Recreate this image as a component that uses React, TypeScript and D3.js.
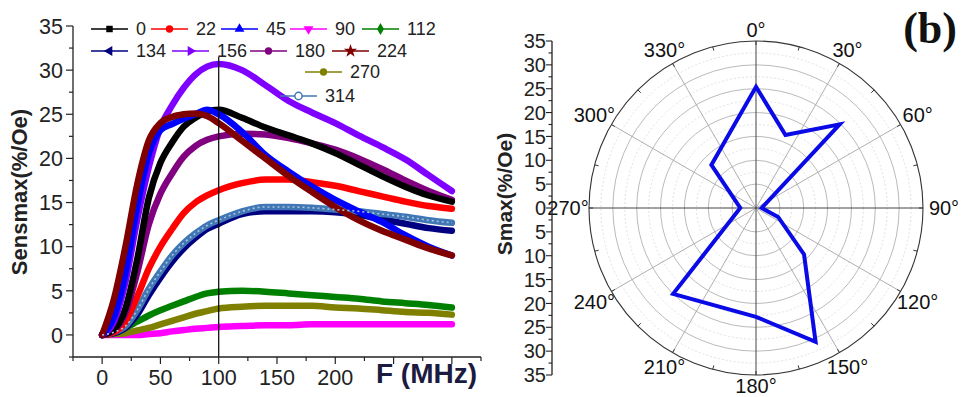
import React from "react";
import * as d3 from "d3";

// frequency grid (MHz) and Sensmax (%/Oe)
const freqMHz = [0, 10, 20, 30, 40, 50, 60, 70, 80, 90, 100, 120, 140, 160, 180, 200, 220, 240, 260, 280, 300];

const sens0 = [0, 0.6, 3, 8.5, 15.5, 19.5, 21.8, 23.6, 24.6, 25.3, 25.5, 24.6, 23.5, 22.6, 21.7, 20.6, 19.3, 18, 16.8, 15.8, 15.1];
const sens22 = [0, 0.3, 1.5, 4.3, 7.5, 10, 12, 13.8, 15, 15.8, 16.4, 17.2, 17.6, 17.6, 17.3, 16.9, 16.3, 15.7, 15.1, 14.6, 14.3];
const sens45 = [0, 2, 7, 14.5, 20.5, 23.2, 23.9, 24.5, 25, 25.5, 25, 23, 20.4, 18.5, 16.8, 15.3, 14, 12.8, 11.3, 10, 9];
const sens90 = [0, 0, 0, 0, 0.1, 0.2, 0.4, 0.55, 0.7, 0.8, 0.9, 1, 1.1, 1.1, 1.2, 1.2, 1.2, 1.2, 1.2, 1.2, 1.2];
const sens112 = [0, 0.2, 0.8, 1.5, 2.2, 2.8, 3.3, 3.8, 4.3, 4.7, 4.9, 5, 4.9, 4.7, 4.5, 4.3, 4.1, 3.8, 3.6, 3.4, 3.1];
const sens134 = [0, 0.2, 0.8, 2.3, 4.5, 6.5, 8.3, 9.8, 11, 12, 12.6, 13.7, 14, 14, 14, 13.9, 13.6, 13.1, 12.6, 12.1, 11.8];
const sens156 = [0, 1.5, 6, 13, 19, 23.5, 26, 28, 29.5, 30.4, 30.7, 30, 28.3, 26.5, 25.2, 24, 22.6, 21.3, 19.9, 18.1, 16.3];
const sens180 = [0, 0.5, 2.5, 7, 12.5, 16, 18.3, 20.2, 21.4, 22.1, 22.5, 22.8, 22.7, 22.3, 21.7, 21, 20, 18.8, 17.5, 16.3, 15.3];
const sens224 = [0, 4, 10, 17, 22, 24, 24.7, 25, 25.1, 24.8, 24, 22, 20, 18, 16.2, 14.5, 13, 11.8, 10.8, 9.8, 9];
const sens270 = [0, 0.1, 0.2, 0.5, 0.8, 1.2, 1.6, 2, 2.4, 2.7, 3, 3.2, 3.3, 3.3, 3.3, 3.1, 3, 2.8, 2.6, 2.5, 2.3];
const sens314 = [0, 0.3, 1, 2.8, 5.2, 7.2, 9, 10.4, 11.5, 12.4, 13, 14, 14.5, 14.5, 14.4, 14.2, 14, 13.7, 13.4, 13, 12.7];

const yTickLabels = ["0", "5", "10", "15", "20", "25", "30", "35"];
const xTickLabels = ["0", "50", "100", "150", "200"];
const markerFreq = 100; // vertical guide line
const markerTop = 31.5;

// panel (b): Smax vs field angle
const polarAngles = [0, 22, 45, 90, 112, 134, 156, 180, 224, 270, 314];
const smaxValues = [25.4, 16.5, 24.8, 1.2, 5, 14, 30.7, 22.8, 25, 3.3, 13];
const angleLabels = ["0°", "30°", "60°", "90°", "120°", "150°", "180°", "210°", "240°", "270°", "300°", "330°"];

type Series = { name: string; values: number[]; color: string; sym: string; rot: number; open?: boolean; lx: number; ly: number };

const series: Series[] = [
  { name: "90", values: sens90, color: "#ff00ff", sym: "tri", rot: 180, lx: 290, ly: 29 },
  { name: "270", values: sens270, color: "#808000", sym: "circle", rot: 0, lx: 305, ly: 72 },
  { name: "112", values: sens112, color: "#008000", sym: "diamond", rot: 0, lx: 362, ly: 29 },
  { name: "134", values: sens134, color: "#000080", sym: "tri", rot: -90, lx: 91, ly: 51 },
  { name: "314", values: sens314, color: "#4077b4", sym: "circle", rot: 0, open: true, lx: 280, ly: 96 },
  { name: "22", values: sens22, color: "#ff0000", sym: "circle", rot: 0, lx: 151, ly: 29 },
  { name: "180", values: sens180, color: "#800080", sym: "circle", rot: 0, lx: 250, ly: 51 },
  { name: "0", values: sens0, color: "#000000", sym: "square", rot: 0, lx: 91, ly: 29 },
  { name: "156", values: sens156, color: "#8000ff", sym: "tri", rot: 90, lx: 172, ly: 51 },
  { name: "45", values: sens45, color: "#0000ff", sym: "tri", rot: 0, lx: 221, ly: 29 },
  { name: "224", values: sens224, color: "#800000", sym: "star", rot: 0, lx: 332, ly: 51 },
];

const symTypes: Record<string, d3.SymbolType> = {
  square: d3.symbolSquare,
  circle: d3.symbolCircle,
  tri: d3.symbolTriangle,
  diamond: d3.symbolDiamond,
  star: d3.symbolStar,
};

const FONT = "'Liberation Sans', Arial, sans-serif";

const App = () => {
  // ---- panel (a) scales
  const x = d3.scaleLinear().domain([-25, 325]).range([73, 481]);
  const y = d3.scaleLinear().domain([-2.5, 35]).range([357, 26]);

  const line = d3
    .line<number>()
    .x((_, i) => x(freqMHz[i]))
    .y((d) => y(d))
    .curve(d3.curveMonotoneX);

  const yMinor = d3.range(-2.5, 35.01, 2.5);
  const xMinor = d3.range(-25, 325.01, 25);

  // ---- panel (b) scales
  const cx = 756;
  const cy = 208;
  const r = d3.scaleLinear().domain([0, 35]).range([0, 167]);
  const rAxis = d3.scaleLinear().domain([-35, 35]).range([cy + 167, cy - 167]);
  const polarLine = d3
    .lineRadial<number>()
    .angle((_, i) => (polarAngles[i] * Math.PI) / 180)
    .radius((d) => r(d))
    .curve(d3.curveLinearClosed);

  const rings = d3.range(5, 35, 5);
  const halfRings = d3.range(2.5, 35, 5);
  const spokes = d3.range(0, 360, 30);
  const outerTicks = d3.range(0, 360, 15);
  const polarMinor = d3.range(-35, 35.01, 2.5);
  const polarMajor = d3.range(-35, 35.01, 5);

  const pt = (deg: number, rad: number) => {
    const a = (deg * Math.PI) / 180;
    return [cx + rad * Math.sin(a), cy - rad * Math.cos(a)];
  };

  return (
    <svg width={962} height={397} style={{ position: "absolute", left: 0, top: 0, background: "#fff" }} fontFamily={FONT}>
      {/* ---------- panel (a) ---------- */}
      <g>
        {series.map((s) => (
          <path key={s.name} d={line(s.values) ?? ""} fill="none" stroke={s.color} strokeWidth={6.5} strokeLinejoin="round" strokeLinecap="round" />
        ))}
        {series
          .filter((s) => s.open)
          .map((s) => (
            <path key={s.name + "o"} d={line(s.values) ?? ""} fill="none" stroke="#a9c4e0" strokeWidth={1.6} strokeDasharray="2 3" />
          ))}
        <line x1={x(markerFreq)} x2={x(markerFreq)} y1={y(markerTop)} y2={y(-2.5)} stroke="#000" strokeWidth={1.2} />

        {/* y axis */}
        <line x1={x(-25)} x2={x(-25)} y1={y(-2.5)} y2={y(35)} stroke="#222" strokeWidth={1.3} />
        {yMinor.map((v) => {
          const major = Math.abs(v % 5) < 1e-6;
          return <line key={"ym" + v} x1={x(-25)} x2={x(-25) - (major ? 7 : 4)} y1={y(v)} y2={y(v)} stroke="#222" strokeWidth={1.2} />;
        })}
        {yTickLabels.map((t) => (
          <text key={"yt" + t} x={x(-25) - 10} y={y(+t)} dy="0.36em" textAnchor="end" fontSize={21.5} fill="#222">
            {t}
          </text>
        ))}
        <text transform={`translate(27,192) rotate(-90)`} textAnchor="middle" fontSize={22} fontWeight="bold" fill="#222">
          Sensmax(%/Oe)
        </text>

        {/* x axis */}
        <line x1={x(-25)} x2={x(325)} y1={y(-2.5)} y2={y(-2.5)} stroke="#222" strokeWidth={1.3} />
        {xMinor.map((v) => {
          const major = Math.abs(v % 50) < 1e-6;
          return <line key={"xm" + v} x1={x(v)} x2={x(v)} y1={y(-2.5)} y2={y(-2.5) + (major ? 7 : 4)} stroke="#222" strokeWidth={1.2} />;
        })}
        {xTickLabels.map((t) => (
          <text key={"xt" + t} x={x(+t)} y={385} textAnchor="middle" fontSize={21.5} fill="#222">
            {t}
          </text>
        ))}
        <text x={477} y={383} textAnchor="end" fontSize={28} fontWeight="bold" fill="#1b1b3f">
          F (MHz)
        </text>

        {/* legend */}
        {series.map((s) => {
          const d = d3.symbol(symTypes[s.sym], s.sym === "star" ? 55 : 42)() ?? "";
          return (
            <g key={"lg" + s.name}>
              <line x1={s.lx} x2={s.lx + 37} y1={s.ly} y2={s.ly} stroke={s.color} strokeWidth={1.4} />
              <path
                d={d}
                transform={`translate(${s.lx + 18.5},${s.ly}) rotate(${s.rot})`}
                fill={s.open ? "#fff" : s.color}
                stroke={s.color}
                strokeWidth={s.open ? 1.5 : 0}
              />
              <text x={s.lx + 45} y={s.ly} dy="0.36em" fontSize={18} fill="#222">
                {s.name}
              </text>
            </g>
          );
        })}
      </g>

      {/* ---------- panel (b) ---------- */}
      <g>
        {halfRings.map((v) => (
          <circle key={"hr" + v} cx={cx} cy={cy} r={r(v)} fill="none" stroke="#d4d4d4" strokeWidth={0.7} strokeDasharray="2 2" />
        ))}
        {spokes.map((a) => {
          if (a % 90 === 0) return null;
          const [x2, y2] = pt(a, r(35));
          return <line key={"sp" + a} x1={cx} y1={cy} x2={x2} y2={y2} stroke="#9a9a9a" strokeWidth={0.8} />;
        })}
        {rings.map((v) => (
          <circle key={"rg" + v} cx={cx} cy={cy} r={r(v)} fill="none" stroke="#a8a8a8" strokeWidth={0.8} />
        ))}
        <line x1={cx} x2={cx} y1={cy - r(35)} y2={cy + r(35)} stroke="#444" strokeWidth={1} />
        <line x1={cx - r(35)} x2={cx + r(35)} y1={cy} y2={cy} stroke="#444" strokeWidth={1} />
        <circle cx={cx} cy={cy} r={r(35)} fill="none" stroke="#333" strokeWidth={1.1} />
        {outerTicks.map((a) => {
          const [x1, y1] = pt(a, r(35));
          const [x2, y2] = pt(a, r(35) - 4);
          return <line key={"ot" + a} x1={x1} y1={y1} x2={x2} y2={y2} stroke="#333" strokeWidth={1} />;
        })}
        {angleLabels.map((t, i) => {
          const a = i * 30;
          const rad = 178 + 10 * Math.abs(Math.sin((a * Math.PI) / 180));
          const [lx, ly] = pt(a, rad);
          return (
            <text key={"al" + t} x={lx} y={ly} dy="0.36em" textAnchor="middle" fontSize={20} fill="#111">
              {t}
            </text>
          );
        })}

        <path d={polarLine(smaxValues) ?? ""} transform={`translate(${cx},${cy})`} fill="none" stroke="#0a0ae6" strokeWidth={4} strokeLinejoin="miter" />

        {/* radial axis on the left */}
        <line x1={552} x2={552} y1={rAxis(35)} y2={rAxis(-35)} stroke="#222" strokeWidth={1.3} />
        {polarMinor.map((v) => {
          const major = Math.abs(v % 5) < 1e-6;
          return <line key={"pm" + v} x1={552} x2={552 - (major ? 6 : 3.5)} y1={rAxis(v)} y2={rAxis(v)} stroke="#222" strokeWidth={1.1} />;
        })}
        {polarMajor.map((v) => (
          <text key={"pt" + v} x={546} y={rAxis(v)} dy="0.36em" textAnchor="end" fontSize={20} fill="#222">
            {Math.abs(v)}
          </text>
        ))}
        <text transform={`translate(512,194) rotate(-90)`} textAnchor="middle" fontSize={21} fontWeight="bold" fill="#222">
          Smax(%/Oe)
        </text>

        <text x={957} y={43} textAnchor="end" fontSize={44} fontWeight="bold" fontFamily="'Liberation Serif', 'Times New Roman', serif" fill="#111">
          (b)
        </text>
      </g>
    </svg>
  );
};

export default App;
